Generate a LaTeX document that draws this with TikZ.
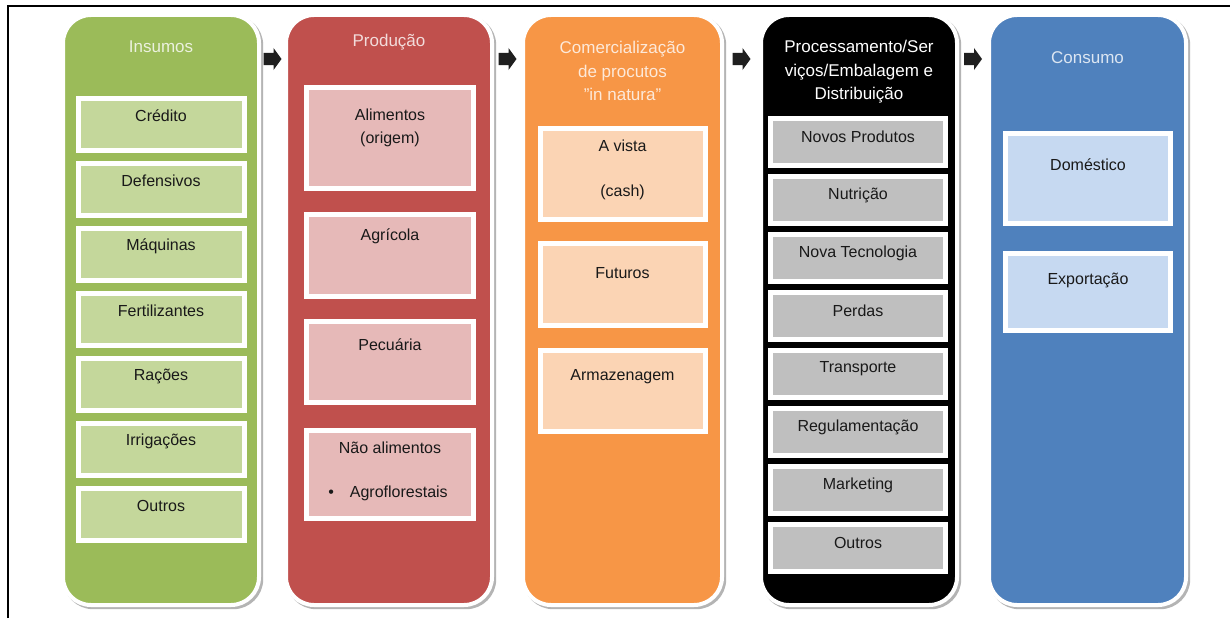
\documentclass[tikz,border=0pt]{standalone}
\usepackage{fontspec}
\setmainfont{Liberation Sans}
\usetikzlibrary{calc}

\definecolor{cGreen}{HTML}{9BBB59}
\definecolor{cRed}{HTML}{C0504D}
\definecolor{cOrange}{HTML}{F79646}
\definecolor{cBlack}{HTML}{000000}
\definecolor{cBlue}{HTML}{4F81BD}
\definecolor{lGreen}{HTML}{C4D79B}
\definecolor{lRed}{HTML}{E6B9B8}
\definecolor{lOrange}{HTML}{FBD4B4}
\definecolor{lGray}{HTML}{BFBFBF}
\definecolor{lBlue}{HTML}{C6D9F1}
\definecolor{tGreen}{HTML}{EBF1DE}
\definecolor{tRed}{HTML}{F2DCDB}
\definecolor{tOrange}{HTML}{FDE9D9}
\definecolor{tBlue}{HTML}{DCE6F2}
\definecolor{shade}{HTML}{B4B4B4}

\tikzset{
  column/.style={rectangle, rounded corners=28pt, draw=white, line width=4pt,
    minimum width=#1, minimum height=590, inner sep=0pt,
    preaction={draw=shade, fill=shade, line width=4pt,
      transform canvas={shift={(2.2pt,-2.2pt)}}}},
  ibox/.style={rectangle, draw=white, line width=5pt, fill=#1, inner sep=0pt,
    anchor=north},
  title/.style={font=\fontsize{17}{23.5}\selectfont, align=center, inner sep=0pt},
  itext/.style={font=\fontsize{16}{23}\selectfont, align=center, inner sep=0pt,
    text=black!90},
  flow/.style={fill=black!88, draw=none},
}

% inner box: name, fill, centre x, outer top, outer height, outer width
\newcommand\stagebox[6]{%
  \node[ibox=#2, minimum width=#6-5, minimum height=#5-5] (#1) at (#3,#4+2.5) {};}

% block arrow pointing right, centred on a named coordinate
\newcommand\flowarrow[1]{%
  \fill[flow] ($(#1)+(-9,-6)$) -- ++(10,0) -- ++(0,-5) -- ++(8,11)
    -- ++(-8,11) -- ++(0,-5) -- ++(-10,0) -- cycle;}

\begin{document}
\begin{tikzpicture}[x=1pt,y=-1pt]
\useasboundingbox (0,0) rectangle (1230,618);
\fill[white] (0,0) rectangle (1230,618);

% surrounding frame
\draw[line width=2.5pt] (8,618) -- (8,6) -- (1230,6);

% the five stages
\node[column=196, fill=cGreen]  (insumos)  at (161,310)    {};
\node[column=206, fill=cRed]    (producao) at (389,310)    {};
\node[column=199, fill=cOrange] (comerc)   at (622.5,310)  {};
\node[column=196, fill=cBlack]  (process)  at (859,310)    {};
\node[column=197, fill=cBlue]   (consumo)  at (1087.5,310) {};

% arrows between the stages
\coordinate (m1) at ($(insumos.north east)!0.5!(producao.north west)+(0,46)$);
\coordinate (m2) at ($(producao.north east)!0.5!(comerc.north west)+(0,46)$);
\coordinate (m3) at ($(comerc.north east)!0.5!(process.north west)+(0,46)$);
\coordinate (m4) at ($(process.north east)!0.5!(consumo.north west)+(0,46)$);
\flowarrow{m1}
\flowarrow{m2}
\flowarrow{m3}
\flowarrow{m4}

% titles
\node[title, text=tGreen]  (h1) at (161,47)   {Insumos};
\node[title, text=tRed]    (h2) at (389,42)   {Produção};
\node[title, text=tOrange] (h3) at (622.5,71) {Comercialização\\de procutos\\\symbol{34}in natura\symbol{34}};
\node[title, text=white]   (h4) at (859,72)   {Processamento/Ser\\viços/Embalagem e\\Distribuição};
\node[title, text=tBlue]   (h5) at (1087.5,58) {Consumo};

% Insumos
\stagebox{g1}{lGreen}{161}{93}{57}{171}
\stagebox{g2}{lGreen}{161}{158}{57}{171}
\stagebox{g3}{lGreen}{161}{223}{57}{171}
\stagebox{g4}{lGreen}{161}{288}{57}{171}
\stagebox{g5}{lGreen}{161}{353}{57}{171}
\stagebox{g6}{lGreen}{161}{418}{57}{171}
\stagebox{g7}{lGreen}{161}{483}{57}{171}
\node[itext] (g1t) at (161,116) {Crédito};
\node[itext] (g2t) at (161,181) {Defensivos};
\node[itext] (g3t) at (161,246) {Máquinas};
\node[itext] (g4t) at (161,311) {Fertilizantes};
\node[itext] (g5t) at (161,376) {Rações};
\node[itext] (g6t) at (161,441) {Irrigações};
\node[itext] (g7t) at (161,506) {Outros};

% Produção
\stagebox{r1}{lRed}{390}{82}{106}{172}
\stagebox{r2}{lRed}{390}{209}{87}{172}
\stagebox{r3}{lRed}{390}{316}{86}{172}
\stagebox{r4}{lRed}{390}{425}{93}{172}
\node[itext] (r1t) at (390,127.5) {Alimentos\\(origem)};
\node[itext] (r2t) at (390,236) {Agrícola};
\node[itext] (r3t) at (390,345) {Pecuária};
\node[itext] (r4t) at (390,448) {Não alimentos};
\node[itext] (r4b) at (388,493) {•\hspace{16pt}Agroflorestais};

% Comercialização
\stagebox{o1}{lOrange}{622.5}{123}{96}{170}
\stagebox{o2}{lOrange}{622.5}{238}{87}{170}
\stagebox{o3}{lOrange}{622.5}{345}{86}{170}
\node[itext, font=\fontsize{16}{45}\selectfont] (o1t) at (622.5,169.5) {A vista\\(cash)};
\node[itext] (o2t) at (622.5,273) {Futuros};
\node[itext] (o3t) at (622.5,377) {Armazenagem};

% Processamento
\stagebox{k1}{lGray}{858}{113}{52}{180}
\stagebox{k2}{lGray}{858}{171}{52}{180}
\stagebox{k3}{lGray}{858}{229}{52}{180}
\stagebox{k4}{lGray}{858}{287}{52}{180}
\stagebox{k5}{lGray}{858}{345}{52}{180}
\stagebox{k6}{lGray}{858}{403}{52}{180}
\stagebox{k7}{lGray}{858}{461}{52}{180}
\stagebox{k8}{lGray}{858}{519}{52}{180}
\node[itext] (k1t) at (858,137) {Novos Produtos};
\node[itext] (k2t) at (858,195) {Nutrição};
\node[itext] (k3t) at (858,253) {Nova Tecnologia};
\node[itext] (k4t) at (858,311) {Perdas};
\node[itext] (k5t) at (858,369) {Transporte};
\node[itext] (k6t) at (858,427) {Regulamentação};
\node[itext] (k7t) at (858,485) {Marketing};
\node[itext] (k8t) at (858,543) {Outros};

% Consumo
\stagebox{b1}{lBlue}{1088}{128}{95}{170}
\stagebox{b2}{lBlue}{1088}{248}{82}{170}
\node[itext] (b1t) at (1088,165) {Doméstico};
\node[itext] (b2t) at (1088,280) {Exportação};
\end{tikzpicture}
\end{document}
